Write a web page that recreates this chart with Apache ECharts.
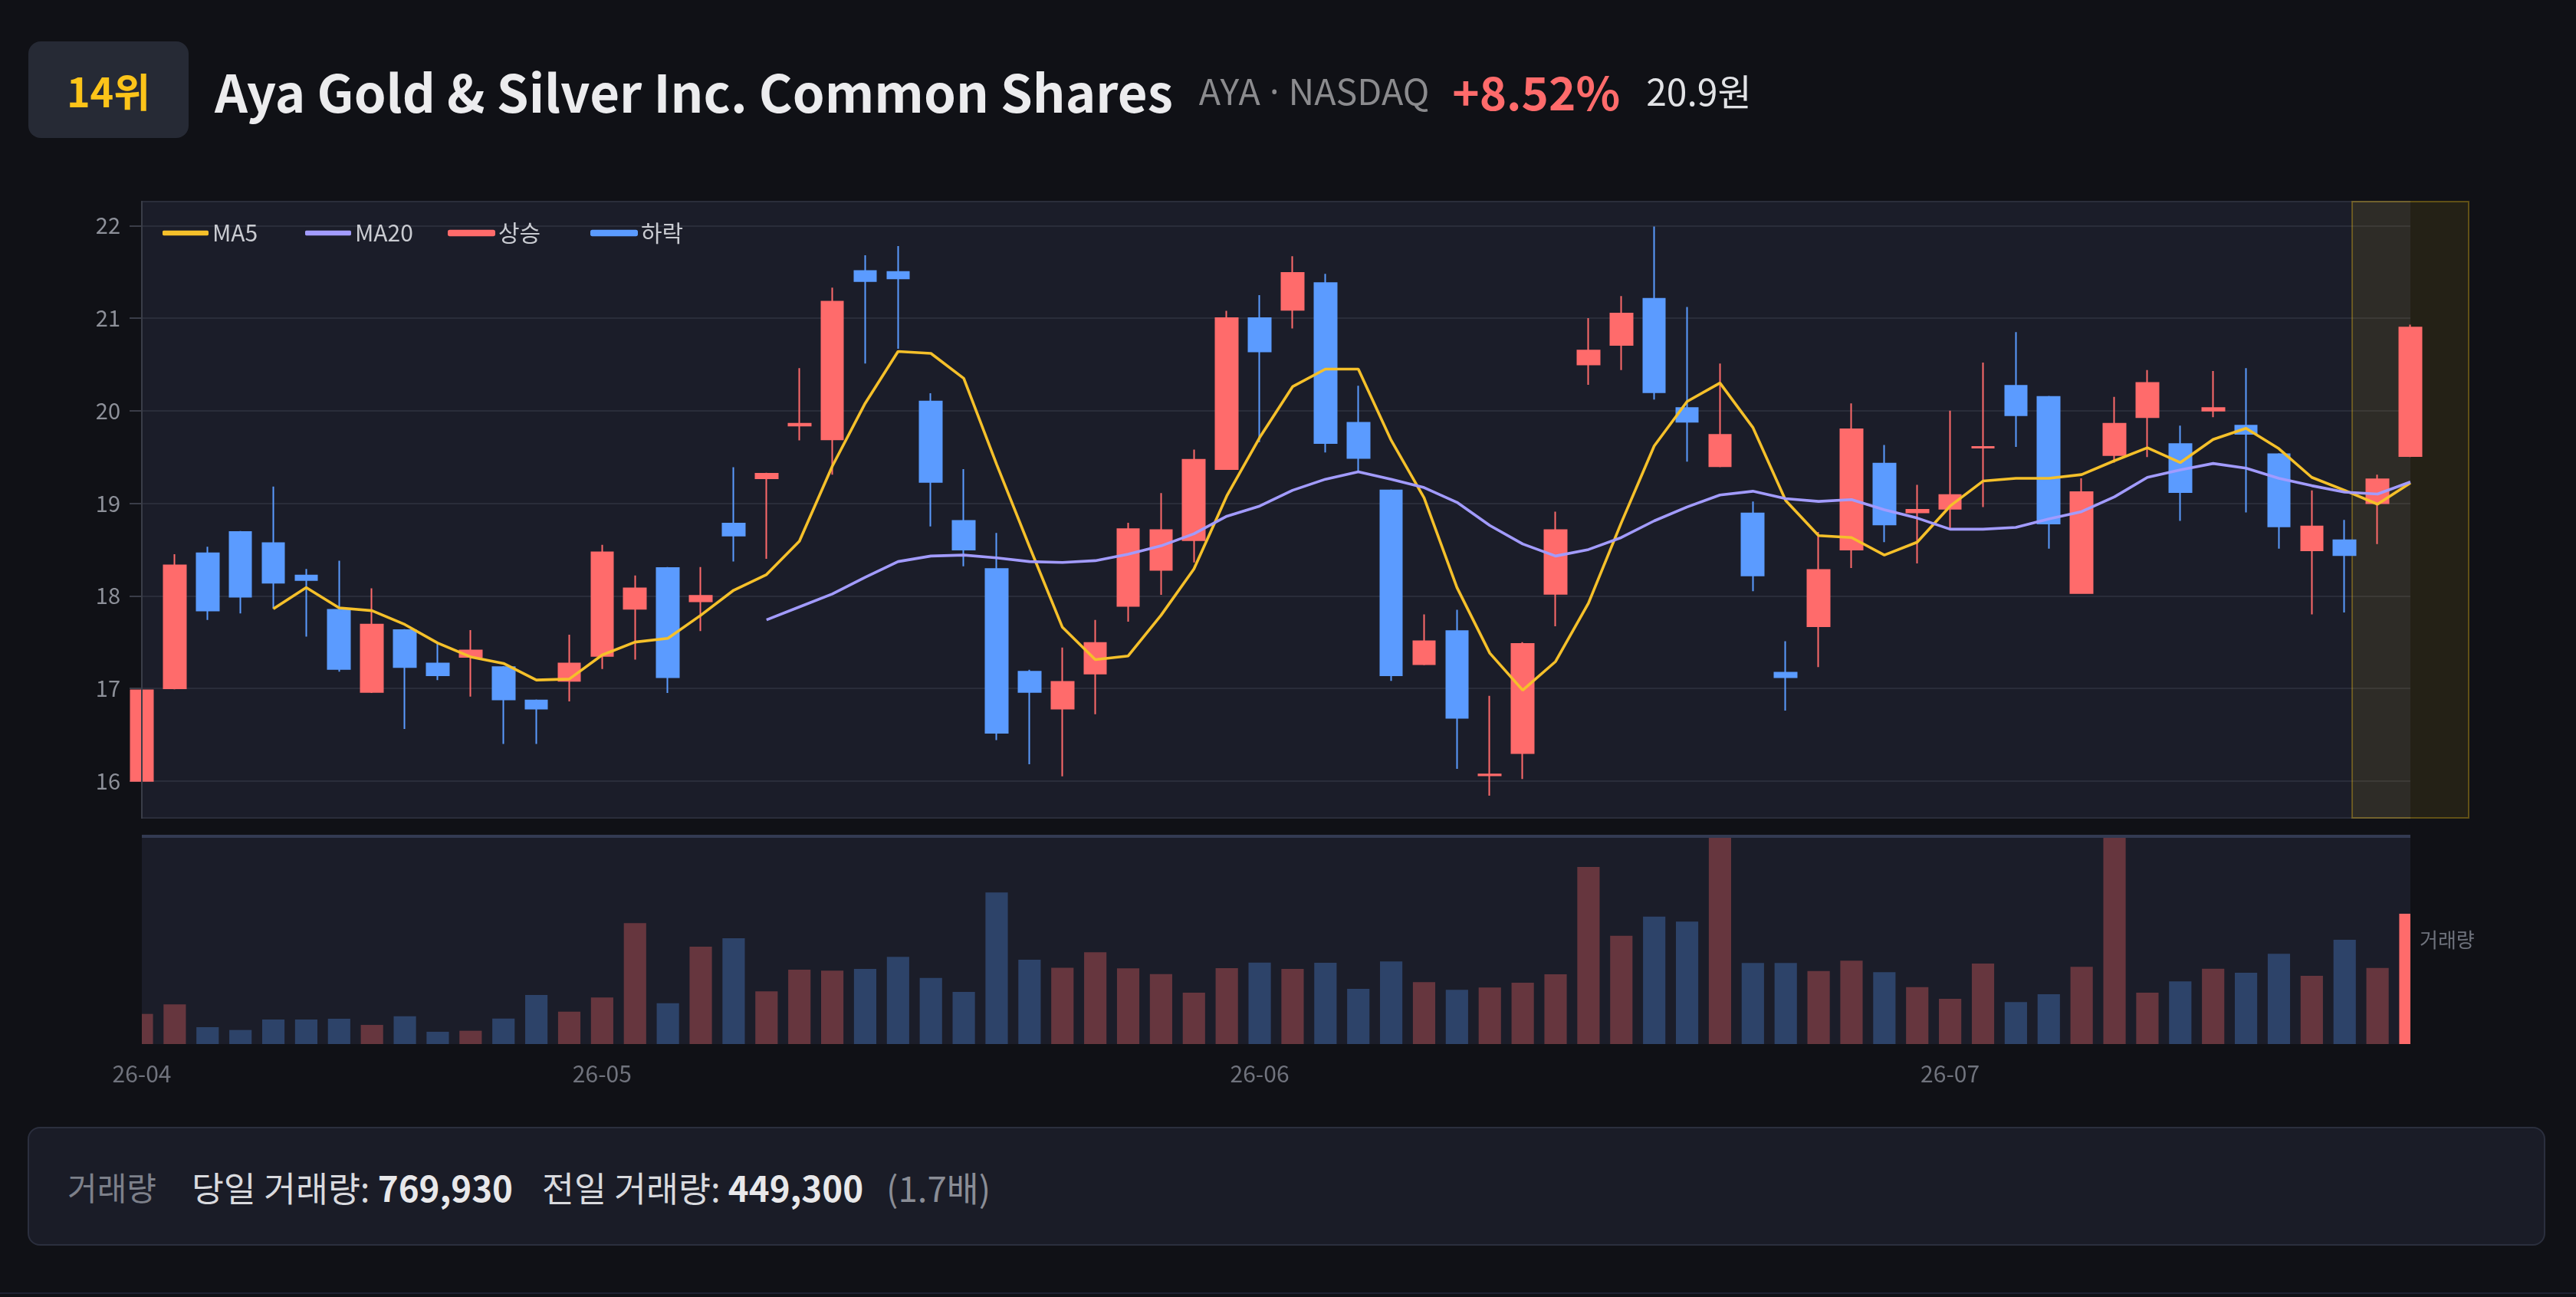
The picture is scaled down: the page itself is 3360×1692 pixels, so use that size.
<!DOCTYPE html>
<html>
<head>
<meta charset="utf-8">
<script src="https://cdn.jsdelivr.net/npm/echarts@6/dist/echarts.min.js"></script>
<style>
  html, body { margin: 0; padding: 0; background: #101116; overflow: hidden; }
  body { width: 100vw; height: 100vh; position: relative; font-family: "Noto Sans CJK KR", "Noto Sans", sans-serif; --s: 1; }
  #chart { position: absolute; left: 0; top: 0; width: 100%; height: 100%; }
  .hdr { position: absolute; left: calc(18.5px * var(--s)); top: calc(27px * var(--s)); height: calc(63px * var(--s)); display: flex; align-items: center; white-space: nowrap; z-index: 2; }
  .badge { width: calc(104.5px * var(--s)); height: calc(63px * var(--s)); border-radius: calc(8px * var(--s)); background: #262a35; color: #fcc419; font-weight: 700; font-size: calc(26px * var(--s)); display: flex; align-items: center; justify-content: center; }
  .title { margin-left: calc(17px * var(--s)); color: #ececee; font-weight: 700; font-size: calc(33.5px * var(--s)); }
  .sym { margin-left: calc(17px * var(--s)); color: #8b8b8e; font-size: calc(23.3px * var(--s)); }
  .sym .dot { font-family: "Noto Sans", sans-serif; }
  .chg { margin-left: calc(15px * var(--s)); color: #ff6b6b; font-weight: 700; font-size: calc(30px * var(--s)); }
  .price { margin-left: calc(17px * var(--s)); color: #e2e3e6; font-size: calc(24px * var(--s)); }
  .foot { position: absolute; left: calc(18px * var(--s)); top: calc(735px * var(--s)); width: calc(1642px * var(--s)); height: calc(77.5px * var(--s)); box-sizing: border-box; border: calc(1px * var(--s)) solid #2b2f3e; border-radius: calc(8px * var(--s)); background: #1a1c27; display: flex; align-items: center; padding-left: calc(25px * var(--s)); white-space: nowrap; z-index: 2; font-size: calc(22.8px * var(--s)); }
  .flabel { color: #7d808a; font-size: calc(21px * var(--s)); margin-right: calc(23px * var(--s)); }
  .ftxt { color: #d9dade; }
  .ftxt b { color: #e8e8ea; font-weight: 700; }
  .ratio { color: #8a8d96; margin-left: calc(15px * var(--s)); }
  .gap2 { margin-left: calc(19px * var(--s)); }
  .bline { position: absolute; left: 0; right: 0; top: calc(843px * var(--s)); height: calc(1px * var(--s)); background: #1f2233; }
</style>
</head>
<body>
<div id="chart"></div>
<div class="hdr">
  <div class="badge">14위</div>
  <div class="title">Aya Gold &amp; Silver Inc. Common Shares</div>
  <div class="sym">AYA<span class="dot"> · </span>NASDAQ</div>
  <div class="chg">+8.52%</div>
  <div class="price">20.9원</div>
</div>
<div class="foot">
  <span class="flabel">거래량</span>
  <span class="ftxt">당일 거래량: <b>769,930</b></span>
  <span class="ftxt gap2">전일 거래량: <b>449,300</b></span>
  <span class="ratio">(1.7배)</span>
</div>
<div class="bline"></div>
<script>
// ---- data ----
const dates = [
  '2026-04-13','2026-04-14','2026-04-15','2026-04-16','2026-04-17','2026-04-20','2026-04-21','2026-04-22','2026-04-23','2026-04-24',
  '2026-04-27','2026-04-28','2026-04-29','2026-04-30',
  '2026-05-01','2026-05-04','2026-05-05','2026-05-06','2026-05-07','2026-05-08','2026-05-11','2026-05-12','2026-05-13','2026-05-14',
  '2026-05-15','2026-05-18','2026-05-19','2026-05-20','2026-05-21','2026-05-22','2026-05-26','2026-05-27','2026-05-28','2026-05-29',
  '2026-06-01','2026-06-02','2026-06-03','2026-06-04','2026-06-05','2026-06-08','2026-06-09','2026-06-10','2026-06-11','2026-06-12',
  '2026-06-15','2026-06-16','2026-06-17','2026-06-18','2026-06-22','2026-06-23','2026-06-24','2026-06-25','2026-06-26','2026-06-29','2026-06-30',
  '2026-07-01','2026-07-02','2026-07-06','2026-07-07','2026-07-08','2026-07-09','2026-07-10','2026-07-13','2026-07-14','2026-07-15',
  '2026-07-16','2026-07-17','2026-07-20','2026-07-21','2026-07-22'
];
const opens = [
  16.00,17.00,18.46,18.69,18.57,18.22,17.85,16.96,17.63,17.27,
  17.34,17.23,16.87,17.08,17.35,17.86,18.30,17.94,18.78,19.27,
  19.84,19.69,21.51,21.50,20.10,18.81,18.29,17.18,16.78,17.16,
  17.89,18.28,18.60,19.37,21.00,21.09,21.38,19.87,19.14,17.26,
  17.62,16.06,16.30,18.02,20.50,20.71,21.21,20.03,19.40,18.89,
  17.17,17.67,18.50,19.43,18.90,18.94,19.60,20.27,20.15,18.03,
  19.52,19.93,19.64,20.00,19.84,19.53,18.49,18.60,19.00,19.51
];
const closes = [
  16.98,18.33,17.84,17.99,18.14,18.17,17.21,17.69,17.23,17.14,
  17.41,16.88,16.78,17.27,18.47,18.08,17.12,18.00,18.65,19.32,
  19.86,21.18,21.40,21.43,19.23,18.50,16.52,16.96,17.07,17.49,
  18.72,18.71,19.47,21.00,20.64,21.49,19.65,19.49,17.14,17.51,
  16.68,16.07,17.48,18.71,20.65,21.05,20.20,19.88,19.74,18.22,
  17.12,18.28,19.80,18.77,18.93,19.09,19.61,19.95,18.78,19.12,
  19.86,20.30,19.12,20.03,19.75,18.75,18.75,18.44,19.26,20.90
];
const highs = [
  16.99,18.45,18.53,18.70,19.18,18.29,18.38,18.08,17.64,17.48,
  17.63,17.24,16.88,17.58,18.55,18.22,18.31,18.31,19.39,19.33,
  20.46,21.33,21.68,21.78,20.19,19.37,18.68,17.20,17.44,17.74,
  18.79,19.11,19.58,21.08,21.25,21.67,21.48,20.27,19.15,17.80,
  17.85,16.92,17.50,18.91,21.00,21.24,21.99,21.12,20.51,19.02,
  17.51,18.69,20.08,19.63,19.20,20.00,20.52,20.85,20.16,19.27,
  20.15,20.44,19.84,20.43,20.46,19.54,19.14,18.82,19.31,20.93
];
const lows = [
  16.00,16.99,17.74,17.81,17.86,17.56,17.18,16.95,16.56,17.09,
  16.91,16.40,16.40,16.86,17.21,17.31,16.95,17.62,18.37,18.40,
  19.68,19.31,20.51,20.67,18.75,18.32,16.44,16.18,16.05,16.72,
  17.72,18.01,18.36,19.36,19.66,20.89,19.55,19.35,17.08,17.25,
  16.13,15.84,16.02,17.67,20.28,20.44,20.12,19.45,19.39,18.05,
  16.76,17.23,18.30,18.58,18.35,18.73,18.96,19.61,18.51,18.02,
  19.44,19.50,18.81,19.93,18.90,18.51,17.80,17.82,18.56,19.50
];
const ma5 = [
  '-','-','-','-',
  17.86,18.09,17.87,17.84,17.69,17.49,17.34,17.27,17.09,17.10,
  17.36,17.50,17.54,17.79,18.06,18.23,18.59,19.40,20.08,20.64,
  20.62,20.35,19.42,18.53,17.66,17.31,17.35,17.79,18.29,19.08,
  19.71,20.26,20.45,20.45,19.68,19.06,18.09,17.38,16.98,17.29,
  17.92,18.79,19.62,20.10,20.30,19.82,19.03,18.65,18.63,18.44,
  18.58,18.97,19.24,19.27,19.27,19.31,19.46,19.60,19.44,19.69,
  19.81,19.59,19.28,19.14,18.99,19.22
];
const ma20 = [
  '-','-','-','-','-','-','-','-','-','-','-','-','-','-','-','-','-','-','-',
  17.74,17.88,18.02,18.20,18.37,18.43,18.44,18.41,18.37,18.36,
  18.38,18.45,18.54,18.67,18.86,18.97,19.14,19.26,19.34,19.26,
  19.17,19.01,18.76,18.56,18.43,18.50,18.63,18.81,18.96,19.09,
  19.13,19.05,19.02,19.04,18.93,18.84,18.72,18.72,18.74,18.83,
  18.91,19.07,19.28,19.36,19.43,19.38,19.27,19.19,19.12,19.10,19.23
];
const volumes = [
  178000,234000,99600,83000,145000,145000,149500,113000,164500,72500,
  78500,151000,290000,191500,275000,714000,241500,575000,625000,311000,
  439000,433500,444000,515000,391000,308000,895500,498000,450000,542000,
  447000,413500,303500,448500,481500,444000,480000,326000,488000,365500,
  320000,334000,362500,412000,1046000,640000,753000,723500,1228700,478500,
  478500,431500,492000,424500,336500,267000,475500,247500,294500,456000,
  1225000,303500,370000,445000,421000,533000,403000,616000,449300,769930
];
const priceMin = 15.6, priceMax = 22.26;
const legendNames = ['MA5', 'MA20', '상승', '하락'];

// ---- render ----
const S = window.innerWidth / 1680;
document.body.style.setProperty('--s', S);
const px = v => v * S;
const UP = '#ff6b6b', DOWN = '#5b9bff', MA5C = '#f5c02a', MA20C = '#a29bfe';
const UP_DIM = 'rgba(255,107,107,0.33)', DOWN_DIM = 'rgba(91,155,255,0.30)';
const FONT = '"Noto Sans CJK KR", "Noto Sans", sans-serif';
const last = dates.length - 1;

const upData = dates.map((d, i) => closes[i] >= opens[i] ? [opens[i], closes[i], lows[i], highs[i]] : '-');
const downData = dates.map((d, i) => closes[i] < opens[i] ? [opens[i], closes[i], lows[i], highs[i]] : '-');
const volData = volumes.map((v, i) => [i, v]);
const volColor = i => i === last ? UP : (closes[i] >= opens[i] ? UP_DIM : DOWN_DIM);

const gridL = px(92.5), gridR = px(108);
const g0Top = px(131.5), g0H = px(402);
const g1Top = px(545.3), g1H = px(135.7);

const legends = legendNames.map((name, k) => ({
  data: [name],
  left: px(103.5 + 93 * k), top: px(142),
  icon: 'roundRect',
  itemWidth: px(30), itemHeight: px(3.2),
  selectedMode: false,
  textStyle: { color: '#c9cbd1', fontSize: px(15), fontFamily: FONT }
}));

const chart = echarts.init(document.getElementById('chart'), null, { renderer: 'canvas' });
const option = {
  backgroundColor: 'transparent',
  animation: false,
  textStyle: { fontFamily: FONT },
  legend: legends,
  grid: [
    { left: gridL, right: gridR, top: g0Top, height: g0H, show: true, backgroundColor: '#1b1d29', borderWidth: 0 },
    { left: gridL, right: gridR, top: g1Top, height: g1H, show: true, backgroundColor: '#1b1d29', borderWidth: 0 }
  ],
  xAxis: [
    { type: 'category', gridIndex: 0, data: dates, boundaryGap: false,
      axisLine: { show: false }, axisTick: { show: false }, axisLabel: { show: false }, splitLine: { show: false } },
    { type: 'category', gridIndex: 1, data: dates, boundaryGap: false,
      axisLine: { show: false }, axisTick: { show: false }, splitLine: { show: false },
      axisLabel: {
        color: '#70737d', fontSize: px(15), margin: px(12), fontFamily: FONT,
        interval: (i, v) => i === 0 || v.slice(5, 7) !== dates[i - 1].slice(5, 7),
        formatter: v => v.slice(2, 7)
      } }
  ],
  yAxis: [
    { type: 'value', gridIndex: 0, min: priceMin, max: priceMax, position: 'left',
      axisLine: { show: true, lineStyle: { color: '#3a3d48', width: px(1) } },
      axisTick: { show: true, length: px(8), lineStyle: { color: '#3a3d48', width: px(1) } },
      axisLabel: { color: '#8d9099', fontSize: px(14.5), margin: px(14), showMinLabel: false, showMaxLabel: false, fontFamily: FONT },
      splitLine: { show: true, lineStyle: { color: '#2a2d3a', width: px(1) } } },
    { type: 'value', gridIndex: 1, min: 0, max: 'dataMax', position: 'right',
      name: '거래량', nameLocation: 'middle', nameRotate: 0, nameGap: px(6),
      nameTextStyle: { color: '#6f737d', fontSize: px(13), align: 'left', fontFamily: FONT },
      axisLine: { show: false }, axisTick: { show: false }, axisLabel: { show: false }, splitLine: { show: false } },
    // price axis line drawn over the candles
    { type: 'value', gridIndex: 0, min: priceMin, max: priceMax, position: 'left', z: 10,
      axisLine: { show: true, lineStyle: { color: '#3a3d48', width: px(1) } },
      axisTick: { show: false }, axisLabel: { show: false }, splitLine: { show: false } }
  ],
  series: [
    { name: 'MA5', type: 'line', xAxisIndex: 0, yAxisIndex: 0, data: ma5, symbol: 'none', smooth: false,
      color: MA5C, itemStyle: { color: MA5C }, lineStyle: { color: MA5C, width: px(1.8) }, z: 3 },
    { name: 'MA20', type: 'line', xAxisIndex: 0, yAxisIndex: 0, data: ma20, symbol: 'none', smooth: false,
      color: MA20C, itemStyle: { color: MA20C }, lineStyle: { color: MA20C, width: px(1.8) }, z: 3 },
    { name: '상승', type: 'candlestick', xAxisIndex: 0, yAxisIndex: 0, data: upData, barWidth: '68%', clip: false,
      itemStyle: { color: UP, color0: UP, borderColor: UP, borderColor0: UP, borderWidth: px(1) } },
    { name: '하락', type: 'candlestick', xAxisIndex: 0, yAxisIndex: 0, data: downData, barWidth: '68%', clip: false,
      itemStyle: { color: DOWN, color0: DOWN, borderColor: DOWN, borderColor0: DOWN, borderWidth: px(1) } },
    { name: '거래량', type: 'custom', xAxisIndex: 1, yAxisIndex: 1, data: volData,
      encode: { x: 0, y: 1 },
      renderItem: (params, api) => {
        const i = api.value(0), v = api.value(1);
        const top = api.coord([i, v]);
        const base = api.coord([i, 0]);
        const w = api.size([1, 0])[0] * 0.68;
        const cs = params.coordSys;
        const rect = echarts.graphic.clipRectByRect(
          { x: top[0] - w / 2, y: top[1], width: w, height: base[1] - top[1] },
          { x: cs.x, y: cs.y, width: cs.width, height: cs.height });
        return rect && { type: 'rect', shape: rect, style: { fill: volColor(params.dataIndex) } };
      },
      markLine: { silent: true, symbol: 'none', label: { show: false },
        lineStyle: { color: '#333a52', width: px(2), type: 'solid' },
        data: [{ yAxis: Math.max(...volumes) }] } }
  ]
};
chart.setOption(option);

// highlight box around the latest session
const cx = chart.convertToPixel({ xAxisIndex: 0 }, dates[last]);
chart.setOption({
  graphic: [{
    type: 'rect', z: 1, silent: true,
    shape: { x: cx - px(38), y: g0Top, width: px(76), height: g0H },
    style: { fill: 'rgba(245,197,24,0.09)', stroke: 'rgba(245,197,24,0.32)', lineWidth: px(1) }
  }]
});
</script>
</body>
</html>
